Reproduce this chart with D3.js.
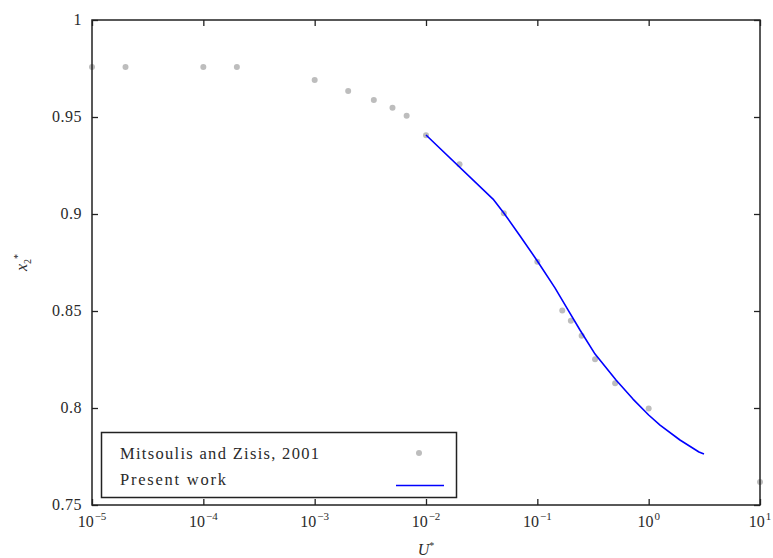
<!DOCTYPE html>
<html>
<head>
<meta charset="utf-8">
<script src="https://cdn.jsdelivr.net/npm/d3@7"></script>
<style>
  body { margin: 0; background: #fff; }
  text { font-family: "Liberation Serif", "Times New Roman", serif; fill: #2a2a2a; }
</style>
</head>
<body>
<svg id="chart" width="773" height="558"></svg>
<script>
// Mitsoulis and Zisis, 2001 (gray dots)
const refU = [1e-5, 2e-5, 1e-4, 2e-4, 1e-3, 2e-3, 3.4e-3, 5e-3, 6.7e-3, 0.01, 0.02, 0.05, 0.1, 0.1675, 0.2, 0.25, 0.33, 0.5, 1, 10];
const refX2 = [0.9758, 0.9758, 0.9758, 0.9758, 0.9691, 0.9634, 0.9588, 0.9548, 0.9507, 0.9406, 0.9256, 0.9004, 0.8754, 0.8502, 0.845, 0.8373, 0.8251, 0.8127, 0.7998, 0.7619];

// Present work (blue line)
const workU = [0.01, 0.04, 0.05, 0.07, 0.1, 0.144, 0.1845, 0.2416, 0.33, 0.509, 0.723, 1, 1.265, 1.91, 2.83, 3.14];
const workX2 = [0.9407, 0.9077, 0.9005, 0.8887, 0.8758, 0.8619, 0.8515, 0.8402, 0.8278, 0.8144, 0.8046, 0.7964, 0.7912, 0.7835, 0.7773, 0.7763];

const xTicks = [1e-5, 1e-4, 1e-3, 1e-2, 1e-1, 1, 10];
const yTicks = [0.75, 0.8, 0.85, 0.9, 0.95, 1];
const yTickLabels = ["0.75", "0.8", "0.85", "0.9", "0.95", "1"];

const svg = d3.select("#chart");
const plotLeft = 92, plotRight = 760, plotTop = 20, plotBottom = 505;

const x = d3.scaleLog().domain([1e-5, 10]).range([plotLeft, plotRight]);
const y = d3.scaleLinear().domain([0.75, 1]).range([plotBottom, plotTop]);

const tickLen = 6;

// data first, frame drawn over
const refData = refU.map((u, i) => ({ u, v: refX2[i] }));
const workData = workU.map((u, i) => ({ u, v: workX2[i] }));

svg.append("g")
  .selectAll("circle")
  .data(refData)
  .enter()
  .append("circle")
  .attr("cx", (d) => x(d.u))
  .attr("cy", (d) => y(d.v))
  .attr("r", 3)
  .style("fill", "#bdbdbd");

const line = d3.line()
  .x((d) => x(d.u))
  .y((d) => y(d.v));

svg.append("path")
  .datum(workData)
  .attr("d", line)
  .style("fill", "none")
  .style("stroke", "#0000ff")
  .style("stroke-width", 1.6)
  .style("stroke-linejoin", "round");

// axes (ticks inward on all four sides)
const axisStyle = (g) => {
  g.select(".domain").remove();
  g.selectAll(".tick line").style("stroke", "#222").style("stroke-width", 1.3);
  g.selectAll(".tick text").remove();
};

svg.append("g")
  .attr("transform", `translate(0,${plotBottom})`)
  .call(d3.axisTop(x).tickValues(xTicks).tickSize(tickLen))
  .call(axisStyle);
svg.append("g")
  .attr("transform", `translate(0,${plotTop})`)
  .call(d3.axisBottom(x).tickValues(xTicks).tickSize(tickLen))
  .call(axisStyle);
svg.append("g")
  .attr("transform", `translate(${plotLeft},0)`)
  .call(d3.axisRight(y).tickValues(yTicks).tickSize(tickLen))
  .call(axisStyle);
svg.append("g")
  .attr("transform", `translate(${plotRight},0)`)
  .call(d3.axisLeft(y).tickValues(yTicks).tickSize(tickLen))
  .call(axisStyle);

svg.append("rect")
  .attr("x", plotLeft)
  .attr("y", plotTop)
  .attr("width", plotRight - plotLeft)
  .attr("height", plotBottom - plotTop)
  .style("fill", "none")
  .style("stroke", "#222")
  .style("stroke-width", 1.5);

// y tick labels
svg.append("g")
  .selectAll("text")
  .data(yTicks)
  .enter()
  .append("text")
  .attr("x", plotLeft - 10)
  .attr("y", (d) => y(d) + 5)
  .attr("text-anchor", "end")
  .style("font-size", "16px")
  .style("letter-spacing", "0.5px")
  .text((d, i) => yTickLabels[i]);

// x tick labels 10^n
const xl = svg.append("g")
  .selectAll("text")
  .data(xTicks)
  .enter()
  .append("text")
  .attr("x", (d) => x(d))
  .attr("y", plotBottom + 22)
  .attr("text-anchor", "middle")
  .style("font-size", "16px");
xl.append("tspan").text("10");
xl.append("tspan")
  .attr("dy", -7)
  .attr("dx", 1)
  .style("font-size", "11px")
  .text((d) => { const e = Math.round(Math.log10(d)); return e < 0 ? "\u2212" + (-e) : String(e); });

// axis titles
const xt = svg.append("text")
  .attr("x", (plotLeft + plotRight) / 2)
  .attr("y", 555)
  .attr("text-anchor", "middle")
  .style("font-size", "16px");
xt.append("tspan").style("font-style", "italic").text("U");
xt.append("tspan").attr("dy", -6).style("font-size", "10px").text("*");

const yt = svg.append("text")
  .attr("transform", `translate(27,${(plotTop + plotBottom) / 2}) rotate(-90)`)
  .attr("text-anchor", "middle")
  .style("font-size", "16px");
yt.append("tspan").style("font-style", "italic").text("x");
yt.append("tspan").attr("dy", 4).style("font-size", "10px").text("2");
yt.append("tspan").attr("dy", -10).style("font-size", "10px").text("*");

// legend
const lg = svg.append("g");
lg.append("rect")
  .attr("x", 101.5)
  .attr("y", 432.5)
  .attr("width", 355)
  .attr("height", 65)
  .style("fill", "#fff")
  .style("stroke", "#222")
  .style("stroke-width", 1.5);
lg.append("text")
  .attr("x", 120)
  .attr("y", 459)
  .attr("textLength", 199)
  .style("font-size", "16.5px")
  .text("Mitsoulis and Zisis, 2001");
lg.append("text")
  .attr("x", 120)
  .attr("y", 485)
  .attr("textLength", 106)
  .style("font-size", "16.5px")
  .text("Present work");
lg.append("circle")
  .attr("cx", 419)
  .attr("cy", 453)
  .attr("r", 3)
  .style("fill", "#bdbdbd");
lg.append("line")
  .attr("x1", 396)
  .attr("x2", 444)
  .attr("y1", 485.5)
  .attr("y2", 485.5)
  .style("stroke", "#0000ff")
  .style("stroke-width", 1.6);
</script>
</body>
</html>
